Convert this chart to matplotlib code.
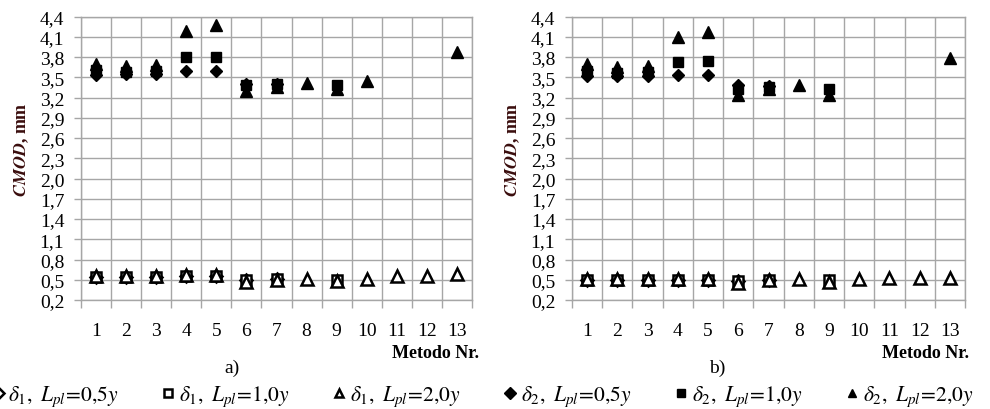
import numpy as np
import matplotlib
matplotlib.use("Agg")
import matplotlib.pyplot as plt
from matplotlib.ticker import FixedLocator, FuncFormatter

plt.rcParams['font.family'] = 'serif'
plt.rcParams['font.serif'] = ['Liberation Serif']
plt.rcParams['mathtext.fontset'] = 'stix'

nan = np.nan
methods = list(range(1, 14))
yticks = [0.2, 0.5, 0.8, 1.1, 1.4, 1.7, 2.0, 2.3, 2.6, 2.9, 3.2, 3.5, 3.8, 4.1, 4.4]

# panel a)
a_d1_05 = [0.54, 0.54, 0.54, 0.56, 0.56, 0.50, 0.51, nan, nan, nan, nan, nan, nan]
a_d1_10 = [0.54, 0.54, 0.54, 0.55, 0.55, 0.50, 0.51, nan, 0.50, nan, nan, nan, nan]
a_d1_20 = [0.55, 0.55, 0.55, 0.57, 0.57, 0.46, 0.50, 0.51, 0.48, 0.51, 0.56, 0.56, 0.58]
a_d2_05 = [3.54, 3.55, 3.55, 3.60, 3.60, 3.40, 3.40, nan, nan, nan, nan, nan, nan]
a_d2_10 = [3.61, 3.58, 3.60, 3.80, 3.80, 3.38, 3.40, nan, 3.38, nan, nan, nan, nan]
a_d2_20 = [3.70, 3.66, 3.68, 4.18, 4.28, 3.29, 3.36, 3.41, 3.32, 3.45, nan, nan, 3.87]

# panel b)
b_d1_05 = [0.50, 0.50, 0.50, 0.50, 0.50, 0.48, 0.50, nan, nan, nan, nan, nan, nan]
b_d1_10 = [0.50, 0.50, 0.50, 0.50, 0.50, 0.48, 0.50, nan, 0.49, nan, nan, nan, nan]
b_d1_20 = [0.51, 0.51, 0.51, 0.51, 0.51, 0.45, 0.50, 0.51, 0.46, 0.51, 0.53, 0.53, 0.53]
b_d2_05 = [3.52, 3.52, 3.52, 3.54, 3.54, 3.38, 3.37, nan, nan, nan, nan, nan, nan]
b_d2_10 = [3.59, 3.57, 3.58, 3.73, 3.74, 3.33, 3.35, nan, 3.32, nan, nan, nan, nan]
b_d2_20 = [3.70, 3.65, 3.67, 4.09, 4.17, 3.23, 3.33, 3.39, 3.24, nan, nan, nan, 3.79]

labels = [r'$\delta_1,\ L_{pl}\!=\!0{,}5y$', r'$\delta_1,\ L_{pl}\!=\!1{,}0y$',
          r'$\delta_1,\ L_{pl}\!=\!2{,}0y$', r'$\delta_2,\ L_{pl}\!=\!0{,}5y$',
          r'$\delta_2,\ L_{pl}\!=\!1{,}0y$', r'$\delta_2,\ L_{pl}\!=\!2{,}0y$']
markers = ['D', 's', '^', 'D', 's', '^']
sizes = [6, 7, 8, 6, 7, 8]
filled = [False, False, False, True, True, True]

grid_c = '#a6a6a6'
fig = plt.figure(figsize=(9.9, 4.1), dpi=100)
ax_a = fig.add_axes([81 / 990, 1 - 301 / 410, 391 / 990, 283.5 / 410])
ax_b = fig.add_axes([572 / 990, 1 - 301 / 410, 393 / 990, 283.5 / 410])

panels = [
    (ax_a, [a_d1_05, a_d1_10, a_d1_20, a_d2_05, a_d2_10, a_d2_20]),
    (ax_b, [b_d1_05, b_d1_10, b_d1_20, b_d2_05, b_d2_10, b_d2_20]),
]

handles = []
for ax, series in panels:
    hs = []
    for vals, m, ms, f, lab in zip(series, markers, sizes, filled, labels):
        h, = ax.plot(methods, vals, linestyle='none', marker=m, markersize=ms,
                     markerfacecolor='black' if f else 'white',
                     markeredgecolor='black', markeredgewidth=1.0 if f else 1.8,
                     label=lab, zorder=3)
        hs.append(h)
    handles = hs
    ax.set_xlim(0.5, 13.5)
    ax.set_ylim(0.2, 4.4)
    ax.set_yticks(yticks)
    ax.yaxis.set_major_formatter(FuncFormatter(lambda v, p: f'{v:.1f}'.replace('.', ',')))
    ax.xaxis.set_major_locator(FixedLocator(np.arange(0.5, 14, 1.0)))
    ax.xaxis.set_minor_locator(FixedLocator(methods))
    ax.xaxis.set_major_formatter(FuncFormatter(lambda v, p: ''))
    ax.xaxis.set_minor_formatter(FuncFormatter(lambda v, p: f'{int(round(v))}'))
    ax.tick_params(axis='x', which='major', length=6, color=grid_c, width=1)
    ax.tick_params(axis='x', which='minor', length=0, pad=16, labelsize=14)
    ax.tick_params(axis='y', length=5, color=grid_c, width=1, pad=7, labelsize=14)
    ax.grid(True, which='major', color=grid_c, linewidth=1)
    ax.set_axisbelow(True)
    for s in ax.spines.values():
        s.set_color(grid_c)
        s.set_linewidth(1)

# y-axis titles: bold italic "CMOD", bold upright unit
for x in (22 / 990, 513 / 990):
    fig.text(x, 1 - 150 / 410, r'$\mathbfit{CMOD}$, mm', rotation=90,
             ha='center', va='center', fontsize=13, fontweight='bold',
             color='#3a0d0d')

fig.text(232 / 990, 1 - 368 / 410, 'a)', ha='center', va='center', fontsize=14)
fig.text(717 / 990, 1 - 368 / 410, 'b)', ha='center', va='center', fontsize=14)
fig.text(435 / 990, 1 - 354 / 410, 'Metodo Nr.', ha='center', va='center',
         fontsize=13, fontweight='bold')
fig.text(925 / 990, 1 - 354 / 410, 'Metodo Nr.', ha='center', va='center',
         fontsize=13, fontweight='bold')

leg = fig.legend(handles=handles, labels=labels, loc='center',
                 bbox_to_anchor=(0.487, 1 - 397 / 410), ncol=6, frameon=False,
                 fontsize=15.5, handlelength=0.6, handletextpad=0.2,
                 columnspacing=2.0, borderaxespad=0)
for h in leg.legend_handles:
    h.set_markersize(6)

fig.savefig('out.png', dpi=100)
